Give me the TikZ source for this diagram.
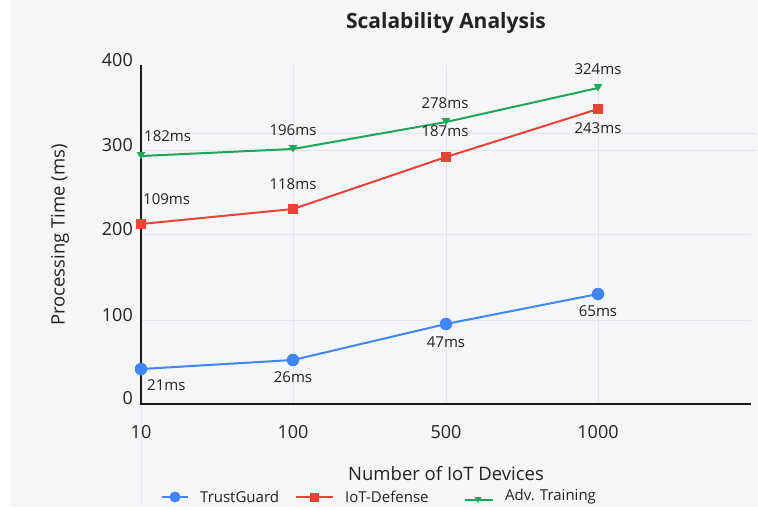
\documentclass[tikz,border=0pt]{standalone}
\usepackage{fontspec}
\setmainfont{Open Sans}
\usetikzlibrary{shapes.geometric}
\definecolor{bgc}{HTML}{F5F6F8}
\definecolor{gridc}{HTML}{E4E6E9}
\definecolor{tgblue}{HTML}{4285F4}
\definecolor{idred}{HTML}{EA4335}
\definecolor{atgreen}{HTML}{1EA65A}
\definecolor{txt}{HTML}{222222}
\begin{document}
\begin{tikzpicture}[x=1pt,y=-1pt,
  gridline/.style={draw=gridc, line width=1pt},
  axisline/.style={draw=black!90, line width=2.3pt},
  tgline/.style={draw=tgblue, line width=2pt},
  idline/.style={draw=idred, line width=2pt},
  atline/.style={draw=atgreen, line width=2pt},
  tgmark/.style={circle, fill=tgblue, inner sep=0pt, minimum size=12.5pt},
  idmark/.style={rectangle, fill=idred, inner sep=0pt, minimum size=10pt},
  atmark/.style={regular polygon, regular polygon sides=3, shape border rotate=180, fill=atgreen, inner sep=0pt, minimum size=10pt},
  vlabel/.style={text=txt, font=\fontsize{15}{18}\selectfont, inner sep=0pt},
  ticklabel/.style={text=txt, font=\fontsize{18}{21}\selectfont, inner sep=0pt},
  axtitle/.style={text=txt, font=\fontsize{18.5}{22}\selectfont, inner sep=0pt},
  legtext/.style={text=txt, font=\fontsize{15}{18}\selectfont, inner sep=0pt, anchor=west}
]
\useasboundingbox (0,0) rectangle (758,509);
\fill[bgc] (11,0) rectangle (758,507);

% grid
\draw[gridline] (141,133) -- (757,133);
\draw[gridline] (141,150) -- (757,150);
\draw[gridline] (141,234) -- (751,234);
\draw[gridline] (141,320) -- (751,320);
\draw[gridline] (293,65) -- (293,404);
\draw[gridline] (446,65) -- (446,404);
\draw[gridline] (598,65) -- (598,404);
\draw[gridline] (141,404) -- (141,506);

% axes
\coordinate (ytop) at (141,65);
\coordinate (orig) at (141,404);
\coordinate (xend) at (751,404);
\draw[axisline] (ytop) -- (orig) -- (xend);

% title
\node[text=txt, font=\fontsize{21}{25}\selectfont\bfseries, inner sep=0pt] (title) at (446,23) {Scalability Analysis};

% y ticks
\node[ticklabel, anchor=east] (y400) at (133,60) {400};
\node[ticklabel, anchor=east] (y300) at (133,145) {300};
\node[ticklabel, anchor=east] (y200) at (133,229) {200};
\node[ticklabel, anchor=east] (y100) at (133,315) {100};
\node[ticklabel, anchor=east] (y0) at (133,398) {0};

% x ticks
\node[ticklabel] (x10) at (141,432) {10};
\node[ticklabel] (x100) at (293,432) {100};
\node[ticklabel] (x500) at (446,432) {500};
\node[ticklabel] (x1000) at (598,432) {1000};

% axis titles
\node[axtitle] (xtitle) at (446,474) {Number of IoT Devices};
\node[axtitle, rotate=90] (ytitle) at (60,235) {Processing Time (ms)};

% data points
\coordinate (b1) at (141,369);
\coordinate (b2) at (293,360);
\coordinate (b3) at (446,324);
\coordinate (b4) at (598,294);
\coordinate (r1) at (141,224);
\coordinate (r2) at (293,209);
\coordinate (r3) at (446,157);
\coordinate (r4) at (598,109);
\coordinate (g1) at (141,156);
\coordinate (g2) at (293,149);
\coordinate (g3) at (446,122);
\coordinate (g4) at (598,88);

\draw[tgline] (b1) -- (b2) -- (b3) -- (b4);
\draw[idline] (r1) -- (r2) -- (r3) -- (r4);
\draw[atline] (g1) -- (g2) -- (g3) -- (g4);

\foreach \p in {b1,b2,b3,b4} \node[tgmark] at (\p) {};
\foreach \p in {r1,r2,r3,r4} \node[idmark] at (\p) {};
\foreach \p in {g1,g2,g3,g4} \node[atmark, yshift=1.5pt] at (\p) {};

% value labels
\node[vlabel, anchor=west] (lg1) at (144,136) {182ms};
\node[vlabel] (lg2) at (293,130) {196ms};
\node[vlabel] (lg3) at (445,103) {278ms};
\node[vlabel] (lg4) at (598,69) {324ms};
\node[vlabel, anchor=west] (lr1) at (143,199) {109ms};
\node[vlabel] (lr2) at (293,184) {118ms};
\node[vlabel] (lr3) at (445,131) {187ms};
\node[vlabel] (lr4) at (598,128) {243ms};
\node[vlabel, anchor=west] (lb1) at (147,385) {21ms};
\node[vlabel] (lb2) at (293,377) {26ms};
\node[vlabel] (lb3) at (446,342) {47ms};
\node[vlabel] (lb4) at (598,311) {65ms};

% legend
\coordinate (lta) at (162,497);
\coordinate (ltb) at (188,497);
\draw[tgline] (lta) -- (ltb);
\node[tgmark, minimum size=11pt] (ltm) at (175,497) {};
\node[legtext] (ltt) at (200,497) {TrustGuard};

\coordinate (lra) at (296,497);
\coordinate (lrb) at (333,497);
\draw[idline] (lra) -- (lrb);
\node[idmark, minimum size=9pt] (lrm) at (314,497) {};
\node[legtext] (lrt) at (345,497) {IoT-Defense};

\coordinate (lga) at (465,500);
\coordinate (lgb) at (493,500);
\draw[atline] (lga) -- (lgb);
\node[atmark, minimum size=8pt] (lgm) at (478,499) {};
\node[legtext] (lgt) at (505,497) {Adv. Training};
\end{tikzpicture}
\end{document}
